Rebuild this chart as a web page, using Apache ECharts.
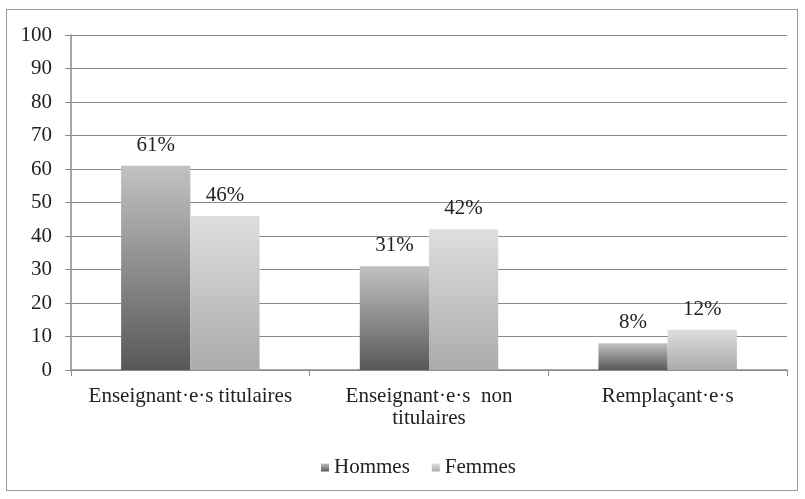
<!DOCTYPE html>
<html>
<head>
<meta charset="utf-8">
<script src="https://cdn.jsdelivr.net/npm/echarts@6/dist/echarts.min.js"></script>
<style>
  html, body { margin: 0; padding: 0; background: #fff; }
  #frame { position: absolute; left: 6px; top: 9px; width: 792px; height: 482px; border: 1.5px solid #999; box-sizing: border-box; }
  #canvas { width: 805px; height: 499px; }
</style>
</head>
<body>
<div id="frame"></div>
<div id="canvas"></div>
<script>
var categories = ['Enseignant·e·s titulaires', 'Enseignant·e·s  non\ntitulaires', 'Remplaçant·e·s'];
var hommes = [61, 31, 8];
var femmes = [46, 42, 12];
var seriesNames = ['Hommes', 'Femmes'];

var font = '"Liberation Serif", "DejaVu Serif", serif';
var fs = 21;

function grad(top, bottom) {
	return new echarts.graphic.LinearGradient(0, 0, 0, 1, [
		{offset: 0, color: top},
		{offset: 1, color: bottom}
	]);
}

var myChart = echarts.init(document.getElementById('canvas'));

var label = {
	show: true,
	position: 'top',
	distance: 10,
	formatter: '{c}%',
	fontFamily: font,
	fontSize: fs,
	color: '#222'
};

var option = {
	animation: false,
	grid: {left: 71, right: 18, top: 35, bottom: 129, containLabel: false},
	legend: {
		bottom: 16,
		left: 316,
		itemWidth: 8,
		itemHeight: 8,
		itemGap: 22,
		icon: 'rect',
		textStyle: {fontFamily: font, fontSize: fs, color: '#222'},
		data: seriesNames
	},
	xAxis: {
		type: 'category',
		data: categories,
		axisLine: {lineStyle: {color: '#8a8a8a', width: 1.5}},
		axisTick: {show: true, length: 6, lineStyle: {color: '#8a8a8a'}},
		axisLabel: {
			interval: 0,
			hideOverlap: false,
			fontFamily: font,
			fontSize: fs,
			color: '#222',
			margin: 15,
			lineHeight: 22
		}
	},
	yAxis: {
		type: 'value',
		min: 0,
		max: 100,
		interval: 10,
		axisLine: {show: true, lineStyle: {color: '#8a8a8a', width: 1.5}},
		axisTick: {show: true, length: 6, lineStyle: {color: '#8a8a8a'}},
		splitLine: {lineStyle: {color: '#8a8a8a', width: 1}},
		axisLabel: {fontFamily: font, fontSize: fs, color: '#222', margin: 19}
	},
	series: [
		{
			name: seriesNames[0],
			type: 'bar',
			data: hommes,
			barGap: '0%',
			barCategoryGap: '42%',
			itemStyle: {color: grad('#c2c2c2', '#585858')},
			label: label
		},
		{
			name: seriesNames[1],
			type: 'bar',
			data: femmes,
			itemStyle: {color: grad('#dedede', '#ababab')},
			label: label
		}
	]
};

myChart.setOption(option);
</script>
</body>
</html>
